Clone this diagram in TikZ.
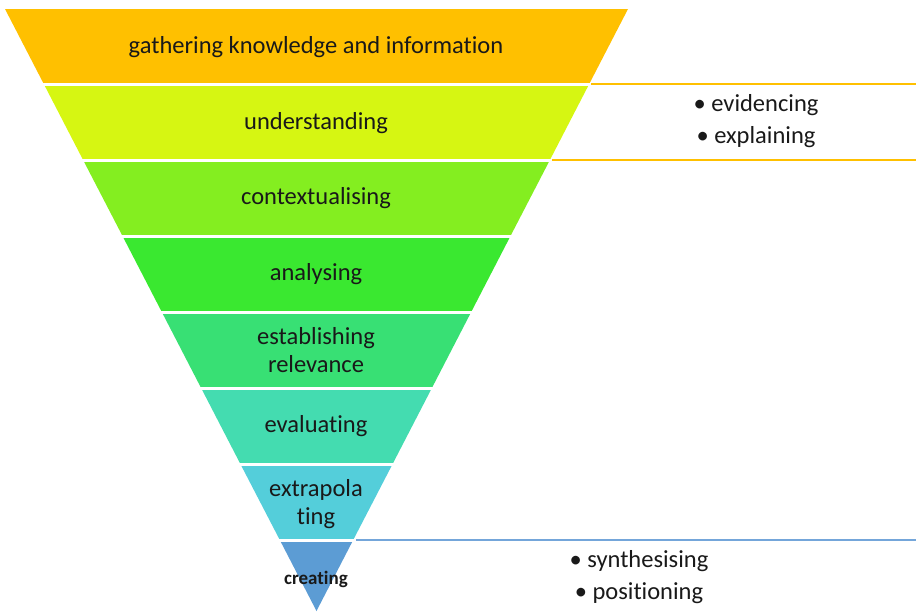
\documentclass[tikz,border=0pt]{standalone}
\usepackage{fontspec}
\setmainfont{Carlito}[Ligatures=NoCommon]
\usepackage{tikz}
\usetikzlibrary{positioning}

\definecolor{lv1}{RGB}{255,192,0}
\definecolor{lv2}{RGB}{214,246,18}
\definecolor{lv3}{RGB}{132,238,32}
\definecolor{lv4}{RGB}{58,232,48}
\definecolor{lv5}{RGB}{56,224,116}
\definecolor{lv6}{RGB}{68,220,176}
\definecolor{lv7}{RGB}{84,206,218}
\definecolor{lv8}{RGB}{92,156,212}
\definecolor{bluerule}{RGB}{116,166,218}

\begin{document}
\begin{tikzpicture}[
  x=1pt, y=-1pt,
  font=\fontsize{24.5}{28}\selectfont,
  lvl/.style={align=center, inner sep=0pt, text=black!90},
  note/.style={align=center, inner sep=0pt, text=black!90, font=\fontsize{24.5}{32}\selectfont},
  sep/.style={draw=white, line width=3pt},
  orule/.style={draw=lv1, line width=1.8pt},
  brule/.style={draw=bluerule, line width=1.8pt}
]
\useasboundingbox (0,0) rectangle (916,611);

% funnel bands
\fill[lv1] (5,9) -- (628,9) -- (589.2,84) -- (43.8,84) -- cycle;
\fill[lv2] (43.8,84) -- (589.2,84) -- (549.9,160) -- (83.1,160) -- cycle;
\fill[lv3] (83.1,160) -- (549.9,160) -- (510.5,236) -- (122.5,236) -- cycle;
\fill[lv4] (122.5,236) -- (510.5,236) -- (471.2,312) -- (161.8,312) -- cycle;
\fill[lv5] (161.8,312) -- (471.2,312) -- (431.9,388) -- (201.1,388) -- cycle;
\fill[lv6] (201.1,388) -- (431.9,388) -- (392.6,464) -- (240.4,464) -- cycle;
\fill[lv7] (240.4,464) -- (392.6,464) -- (353.2,540) -- (279.8,540) -- cycle;
\fill[lv8] (279.8,540) -- (353.2,540) -- (316.5,611) -- cycle;

% white gaps between bands
\draw[sep] (0,84) -- (640,84);
\draw[sep] (0,160) -- (640,160);
\draw[sep] (0,236) -- (640,236);
\draw[sep] (0,312) -- (640,312);
\draw[sep] (0,388) -- (640,388);
\draw[sep] (0,464) -- (640,464);
\draw[sep] (0,540) -- (640,540);

% labels
\node[lvl] (gather) at (316,47) {gathering knowledge and information};
\node[lvl] (underst) at (316,123) {understanding};
\node[lvl] (context) at (316,198) {contextualising};
\node[lvl] (analys) at (316,274) {analysing};
\node[lvl] (relev) at (316,350) {establishing\\relevance};
\node[lvl] (evalu) at (316,426) {evaluating};
\node[lvl] (extrap) at (316,504) {extrapola\\ting};
\node[lvl, font=\fontsize{19}{22}\selectfont\bfseries] (creat) at (316,579) {creating};

% side notes
\coordinate (o1) at (591,84);
\coordinate (o1e) at (916,84);
\coordinate (o2) at (552,160);
\coordinate (o2e) at (916,160);
\coordinate (b1) at (356,540);
\coordinate (b1e) at (916,540);
\draw[orule] (o1) -- (o1e);
\draw[orule] (o2) -- (o2e);
\draw[brule] (b1) -- (b1e);

\node[note] (upper) at (756,121) {\textbullet{} evidencing\\\textbullet{} explaining};
\node[note] (lower) at (639,577) {\textbullet{} synthesising\\\textbullet{} positioning};
\end{tikzpicture}
\end{document}
